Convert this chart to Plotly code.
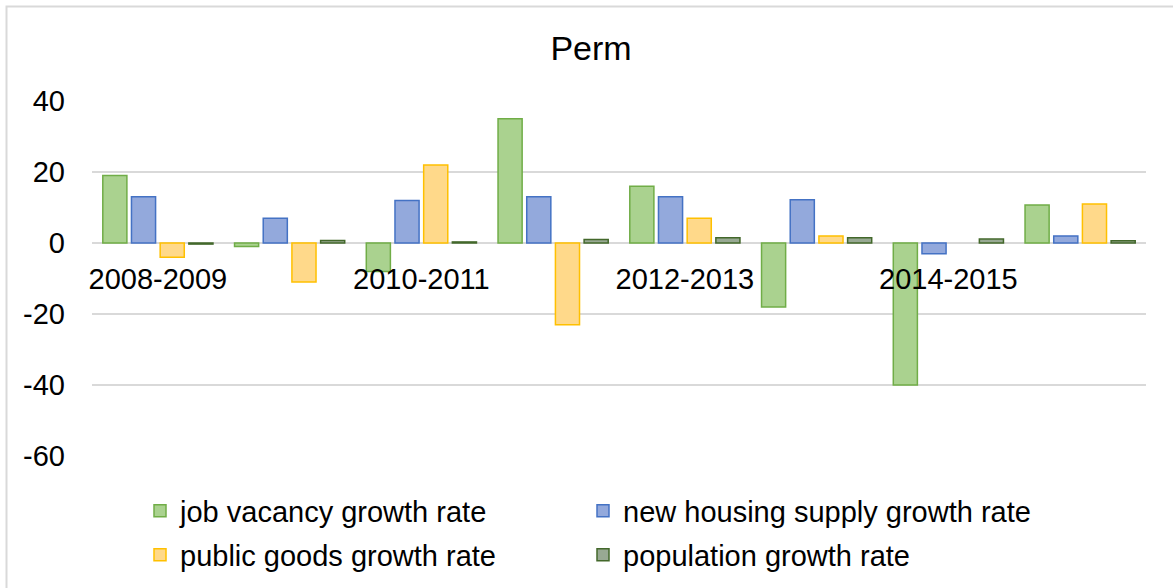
import plotly.graph_objects as go

categories = ["2008-2009", "2009-2010", "2010-2011", "2011-2012",
              "2012-2013", "2013-2014", "2014-2015", "2015-2016"]
job_vacancy = [19, -1, -8, 35, 16, -18, -40, 10.7]
new_housing = [13, 7, 12, 13, 13, 12.2, -3, 2]
public_goods = [-4, -11, 22, -23, 7, 2, None, 11]
population = [-0.3, 0.7, 0.3, 1, 1.5, 1.5, 1.1, 0.6]

shown_ticks = ["2008-2009", "2010-2011", "2012-2013", "2014-2015"]
y_ticks = [40, 20, 0, -20, -40, -60]
y_tick_text = ["40", "20", "0", "-20", "-40", "-60"]

W, H = 1173, 588
ml, mr, mt, mb = 92, 27, 101, 132
pw, ph = W - ml - mr, H - mt - mb

series = [
    ("job vacancy growth rate", job_vacancy, "#aad28f", "#70ad47"),
    ("new housing supply growth rate", new_housing, "#93a9dc", "#4472c4"),
    ("public goods growth rate", public_goods, "#ffd98a", "#ffc000"),
    ("population growth rate", population, "#98a993", "#43682b"),
]
# legend anchor pixels (text start x - 40, row centre y)
legend_pos = [(140, 511), (583, 511), (140, 555), (583, 555)]
legend_ids = ["legend", "legend2", "legend3", "legend4"]

fig = go.Figure()
for (name, vals, fill, line), lg in zip(series, legend_ids):
    fig.add_trace(go.Bar(
        x=categories, y=vals, name=name, showlegend=True,
        marker=dict(color=fill, line=dict(color=line, width=1.5)),
        legend=lg,
    ))

legends = {}
for lg, (px, py) in zip(legend_ids, legend_pos):
    legends[lg] = dict(orientation="h", xref="container", yref="container",
                       x=px / W, xanchor="left",
                       y=1 - py / H, yanchor="middle", visible=True,
                       font=dict(size=29), bgcolor="rgba(0,0,0,0)")

fig.update_layout(
    width=W, height=H, showlegend=True,
    margin=dict(l=ml, r=mr, t=mt, b=mb, autoexpand=False),
    paper_bgcolor="white", plot_bgcolor="white",
    font=dict(family="Liberation Sans, Arial, sans-serif", size=29, color="#000000"),
    title=dict(text="Perm", x=(591 - ml) / pw, xref="paper", xanchor="center",
               y=1 - 48 / H, yanchor="middle",
               font=dict(size=34, color="#000000")),
    barmode="group", bargap=0.129, bargroupgap=0.16,
    xaxis=dict(
        tickvals=shown_ticks, ticktext=shown_ticks,
        anchor="free", position=0.6,
        showline=False, showgrid=False, zeroline=False,
        ticks="outside", ticklen=10, tickcolor="rgba(0,0,0,0)",
        tickfont=dict(size=29, color="#000000"),
    ),
    yaxis=dict(
        range=[-60, 40], tickvals=y_ticks, ticktext=y_tick_text,
        showgrid=True, gridcolor="#d9d9d9", gridwidth=1.5,
        zeroline=True, zerolinecolor="#d9d9d9", zerolinewidth=1.5,
        showline=False, ticks="", ticklabelstandoff=26,
        tickfont=dict(size=29, color="#000000"),
    ),
    shapes=[dict(type="rect", xref="paper", yref="paper",
                 x0=(6.5 - ml) / pw, x1=(W + 10 - ml) / pw,
                 y0=(H - mb - (H + 10)) / ph, y1=(H - mb - 6.5) / ph,
                 line=dict(color="#d9d9d9", width=2), layer="below")],
    **legends,
)

fig.write_html("out.html")
